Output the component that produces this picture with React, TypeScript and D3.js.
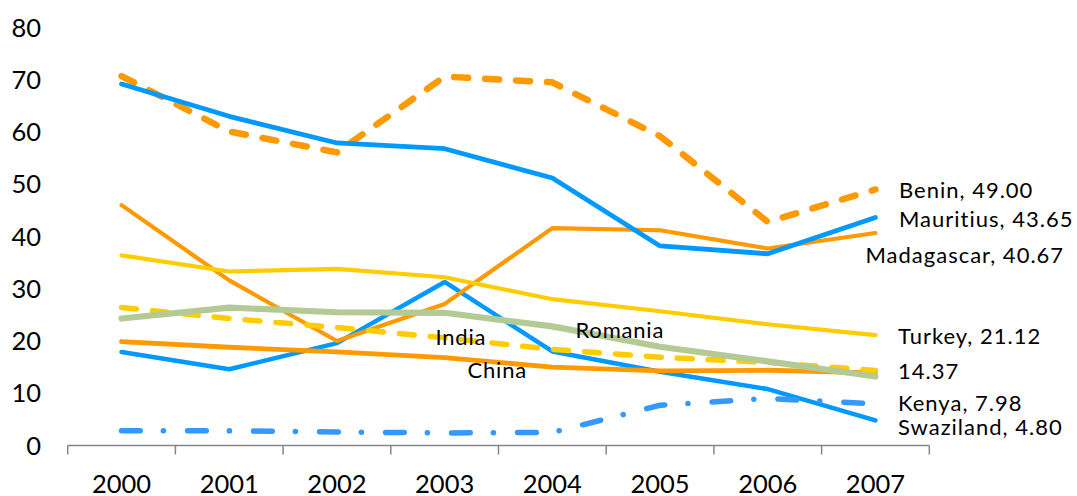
import React from 'react';
import * as d3 from 'd3';

// Categories and series values
const years = ['2000', '2001', '2002', '2003', '2004', '2005', '2006', '2007'];
const yTicks = [0, 10, 20, 30, 40, 50, 60, 70, 80];

const benin = [70.7, 60.1, 56.1, 70.6, 69.5, 59.2, 42.8, 49.0];
const mauritius = [69.2, 63.0, 57.9, 56.8, 51.2, 38.2, 36.7, 43.65];
const madagascar = [46.0, 31.6, 20.0, 27.1, 41.6, 41.2, 37.7, 40.67];
const turkey = [36.4, 33.3, 33.8, 32.2, 28.0, 25.7, 23.2, 21.12];
const romania = [24.3, 26.4, 25.5, 25.4, 22.8, 18.9, 16.1, 13.2];
const india = [26.4, 24.3, 22.6, 20.6, 18.4, 16.9, 15.9, 14.37];
const china = [19.9, 18.8, 17.9, 16.8, 15.0, 14.3, 14.4, 13.9];
const swaziland = [17.9, 14.6, 19.6, 31.3, 18.0, 14.1, 10.8, 4.8];
const kenya = [2.8, 2.8, 2.6, 2.4, 2.5, 7.7, 9.0, 7.98];

type Series = {
  name: string;
  values: number[];
  color: string;
  width: number;
  dash?: string;
};

// Drawn bottom to top
const series: Series[] = [
  { name: 'Benin', values: benin, color: '#FF9900', width: 6.5, dash: '14 17' },
  { name: 'Swaziland', values: swaziland, color: '#0099FF', width: 4.5 },
  { name: 'Kenya', values: kenya, color: '#3399FF', width: 5.5, dash: '18.7 23.1 0.1 24.1' },
  { name: 'Madagascar', values: madagascar, color: '#FF9900', width: 4.2 },
  { name: 'Mauritius', values: mauritius, color: '#0099FF', width: 4.8 },
  { name: 'China', values: china, color: '#FF9900', width: 4.8 },
  { name: 'Turkey', values: turkey, color: '#FFCC00', width: 4.2 },
  { name: 'India', values: india, color: '#FFCC00', width: 5.5, dash: '15 16' },
  { name: 'Romania', values: romania, color: '#B4CA95', width: 6.2 },
];

// End-of-line labels: text, x, baseline
const endLabels: { text: string; x: number; y: number }[] = [
  { text: 'Benin, 49.00', x: 899, y: 198 },
  { text: 'Mauritius, 43.65', x: 899, y: 226.7 },
  { text: 'Madagascar, 40.67', x: 865.5, y: 263.3 },
  { text: 'Turkey, 21.12', x: 898, y: 344.3 },
  { text: '14.37', x: 898, y: 379.3 },
  { text: 'Kenya, 7.98', x: 898, y: 411 },
  { text: 'Swaziland, 4.80', x: 898, y: 435 },
];

// Inline series names
const inlineLabels: { text: string; x: number; y: number }[] = [
  { text: 'India', x: 435.5, y: 345 },
  { text: 'Romania', x: 575.5, y: 338.3 },
  { text: 'China', x: 467.5, y: 378.3 },
];

const W = 1077;
const H = 496;
const FONT = 'Lato, "Open Sans", sans-serif';

export default function App() {
  const x = d3.scaleBand<string>().domain(years).range([67.7, 929.3]);
  const y = d3.scaleLinear().domain([0, 80]).range([445.5, 27.5]);
  const cx = (yr: string) => (x(yr) as number) + x.bandwidth() / 2;

  const line = d3
    .line<number>()
    .x((_, i) => cx(years[i]))
    .y((v) => y(v));

  const tickXs = years.map((yr) => x(yr) as number).concat([x.range()[1]]);

  return (
    <svg
      width={W}
      height={H}
      style={{ position: 'absolute', left: 0, top: 0, background: '#fff' }}
      fontFamily={FONT}
    >
      <rect width={W} height={H} fill="#fff" />
      {/* y tick labels */}
      {yTicks.map((t) => (
        <text key={t} x={41} y={y(t) + 9} textAnchor="end" fontSize={25.5} fill="#000">
          {t}
        </text>
      ))}
      {/* x axis */}
      <line
        x1={x.range()[0]}
        x2={x.range()[1]}
        y1={y(0)}
        y2={y(0)}
        stroke="#868686"
        strokeWidth={1.5}
      />
      {tickXs.map((tx, i) => (
        <line key={i} x1={tx} x2={tx} y1={y(0)} y2={y(0) + 9} stroke="#868686" strokeWidth={1.5} />
      ))}
      {years.map((yr) => (
        <text key={yr} x={cx(yr)} y={492.5} textAnchor="middle" fontSize={25.5} fill="#000">
          {yr}
        </text>
      ))}
      {/* series lines */}
      {series.map((s) => (
        <path
          key={s.name}
          d={line(s.values) || ''}
          fill="none"
          stroke={s.color}
          strokeWidth={s.width}
          strokeDasharray={s.dash}
          strokeLinecap="round"
          strokeLinejoin="round"
        />
      ))}
      {/* labels */}
      {inlineLabels.map((l) => (
        <text key={l.text} x={l.x} y={l.y} fontSize={22} letterSpacing={0.8} fill="#000">
          {l.text}
        </text>
      ))}
      {endLabels.map((l) => (
        <text key={l.text} x={l.x} y={l.y} fontSize={22} letterSpacing={1} fill="#000">
          {l.text}
        </text>
      ))}
    </svg>
  );
}
